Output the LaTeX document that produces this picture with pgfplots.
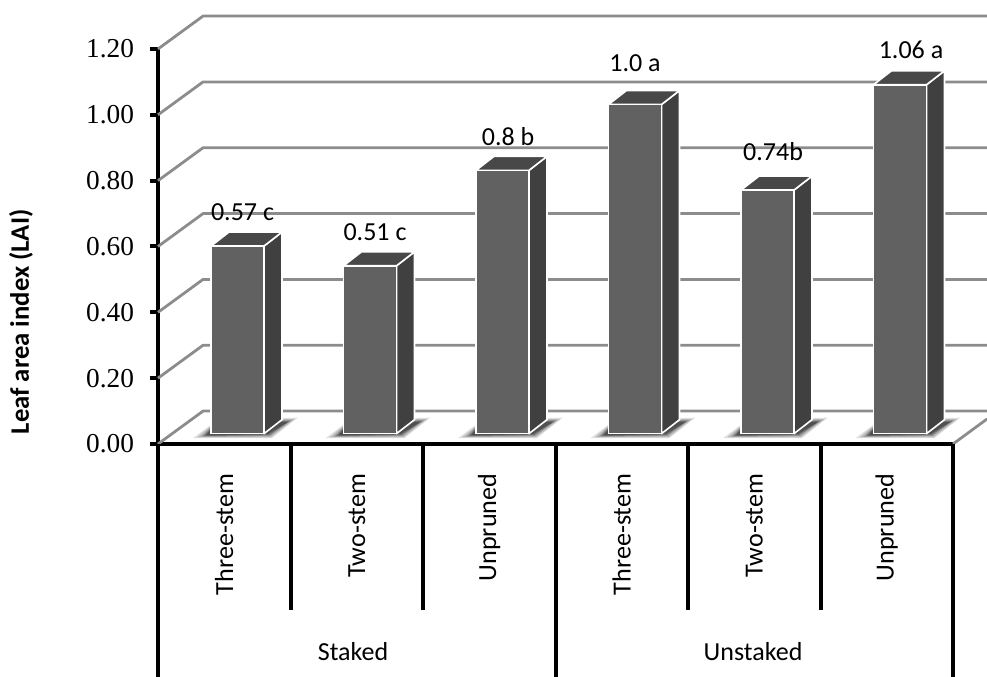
\documentclass[border=0pt]{standalone}
\usepackage{fontspec}
\setmainfont{Liberation Serif}
\newfontfamily\labelfont{Carlito}
\usepackage{pgfplots}
\pgfplotsset{compat=1.18}
\definecolor{frontc}{HTML}{616161}
\definecolor{sidec}{HTML}{404040}
\definecolor{topc}{HTML}{484848}
\definecolor{gridc}{HTML}{8C8C8C}
% side and top faces of one bar: front right x, back right x, back left x, front left x, value, value + depth
\newcommand\barfaces[6]{%
  \addplot[fill=sidec,draw=white,line width=1.2pt,line join=round,yshift=7.75pt] coordinates {(#1,0)(#2,0.0425)(#2,#6)(#1,#5)} --cycle;
  \addplot[fill=topc,draw=white,line width=1.2pt,line join=round,yshift=7.75pt] coordinates {(#4,#5)(#3,#6)(#2,#6)(#1,#5)} --cycle;
}
% receding gridline on the back wall
\newcommand\backline[2]{%
  \addplot[gridc,line width=2.1pt,line join=round] coordinates {(0,#1)(0.34,#2)(6.257,#2)};
}
\begin{document}
\begin{tikzpicture}
\path[use as bounding box] (0,0) rectangle (740.25pt,507.75pt);
\begin{axis}[
  at={(118.5pt,174.75pt)},anchor=origin,
  scale only axis,width=596.25pt,height=296.25pt,
  xmin=0,xmax=6,ymin=0,ymax=1.2,
  clip=false,axis lines=left,
  axis line style={-,line width=3pt,black},
  xtick={0.5,1.5,2.5,3.5,4.5,5.5},
  xticklabels={Three-stem,Two-stem,Unpruned,Three-stem,Two-stem,Unpruned},
  x tick label style={yshift=-12.75pt,rotate=90,anchor=east,font=\labelfont\fontsize{19.6}{22}\selectfont},
  major x tick style={draw=none},
  ytick={0,0.2,0.4,0.6,0.8,1,1.2},
  y tick label style={xshift=-8.5pt,font=\fontsize{20.5}{23}\selectfont},
  yticklabel style={/pgf/number format/fixed,/pgf/number format/fixed zerofill,/pgf/number format/precision=2,/pgf/number format/assume math mode=true},
  tick align=outside,
  major tick length=6pt,
  major y tick style={black,line width=3pt},
  ylabel={Leaf area index (LAI)},
  every axis y label/.style={at={(axis cs:-1.034,0.371)},rotate=90,anchor=center,font=\labelfont\bfseries\fontsize{20}{22}\selectfont},
]
% back wall and floor
\backline{0}{0.1}
\backline{0.2}{0.3}
\backline{0.4}{0.5}
\backline{0.6}{0.7}
\backline{0.8}{0.9}
\backline{1.0}{1.1}
\backline{1.2}{1.3}
\addplot[gridc,line width=2.1pt] coordinates {(6,0)(6.257,0.076)};
% soft shadow beside each bar foot
\pgfplotsinvokeforeach{0,1,2,3,4,5}{
  \addplot[fill=black,fill opacity=0.12,draw=none,xshift=#1*99.375pt] coordinates {(0.265,0.018)(0.408,0.061)(0.958,0.079)(1.055,0.080)(0.860,0.018)} --cycle;
  \addplot[fill=black,fill opacity=0.16,draw=none,xshift=#1*99.375pt] coordinates {(0.295,0.020)(0.408,0.058)(0.958,0.076)(1.033,0.076)(0.852,0.020)} --cycle;
  \addplot[fill=black,fill opacity=0.20,draw=none,xshift=#1*99.375pt] coordinates {(0.325,0.022)(0.408,0.055)(0.958,0.073)(1.011,0.073)(0.845,0.024)} --cycle;
  \addplot[fill=black,fill opacity=0.24,draw=none,xshift=#1*99.375pt] coordinates {(0.345,0.024)(0.408,0.052)(0.958,0.070)(0.996,0.070)(0.838,0.027)} --cycle;
  \addplot[fill=black,fill opacity=0.30,draw=none,xshift=#1*99.375pt] coordinates {(0.362,0.026)(0.408,0.049)(0.958,0.067)(0.981,0.067)(0.83,0.03)} --cycle;
}
% bars
\barfaces{0.8}{0.936}{0.536}{0.4}{0.57}{0.6125}
\barfaces{1.8}{1.936}{1.536}{1.4}{0.51}{0.5525}
\barfaces{2.8}{2.936}{2.536}{2.4}{0.80}{0.8425}
\barfaces{3.8}{3.936}{3.536}{3.4}{1.00}{1.0425}
\barfaces{4.8}{4.936}{4.536}{4.4}{0.74}{0.7825}
\barfaces{5.8}{5.936}{5.536}{5.4}{1.06}{1.1025}
\addplot[ybar,bar width=40pt,bar shift=0pt,fill=frontc,draw=white,line width=1.2pt,yshift=7.75pt]
  coordinates {(0.6,0.57)(1.6,0.51)(2.6,0.80)(3.6,1.00)(4.6,0.74)(5.6,1.06)};
% two-level category separators
\addplot[black,line width=3pt] coordinates {(0,0)(0,-0.71)};
\addplot[black,line width=3pt] coordinates {(1,0)(1,-0.505)};
\addplot[black,line width=3pt] coordinates {(2,0)(2,-0.505)};
\addplot[black,line width=3pt] coordinates {(3,0)(3,-0.71)};
\addplot[black,line width=3pt] coordinates {(4,0)(4,-0.505)};
\addplot[black,line width=3pt] coordinates {(5,0)(5,-0.505)};
\addplot[black,line width=3pt] coordinates {(6,0)(6,-0.71)};
% value and letter labels
\begin{scope}[every node/.style={font=\labelfont\fontsize{19.5}{22}\selectfont}]
\node at (axis cs:0.638,0.705) {0.57 c};
\node at (axis cs:1.638,0.644) {0.51 c};
\node at (axis cs:2.642,0.933) {0.8 b};
\node at (axis cs:3.600,1.157) {1.0 a};
\node at (axis cs:4.642,0.887) {0.74b};
\node at (axis cs:5.683,1.197) {1.06 a};
\node at (axis cs:1.472,-0.632) {Staked};
\node at (axis cs:4.491,-0.632) {Unstaked};
\end{scope}
\end{axis}
\end{tikzpicture}
\end{document}
